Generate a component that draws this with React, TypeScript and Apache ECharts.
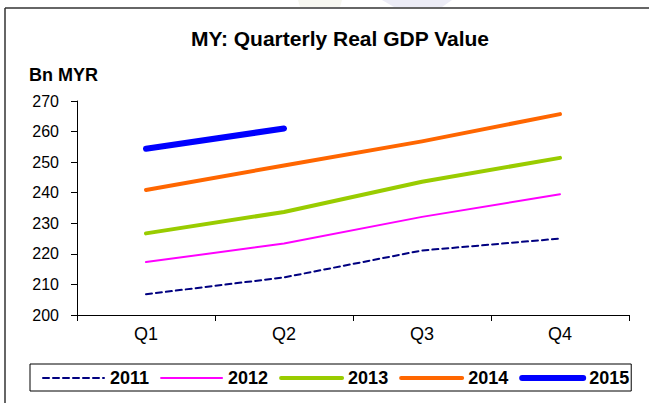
import React, { useEffect, useRef } from "react";
import * as echarts from "echarts";

const quarters = ["Q1", "Q2", "Q3", "Q4"];
const years = ["2011", "2012", "2013", "2014", "2015"];
const gdp2011 = [206.8, 212.3, 221.1, 225.0];
const gdp2012 = [217.3, 223.4, 232.1, 239.5];
const gdp2013 = [226.7, 233.7, 243.6, 251.4];
const gdp2014 = [240.9, 248.9, 256.8, 265.7];
const gdp2015 = [254.4, 261.0];
const yTicks = { min: 200, max: 270, interval: 10 };

const FONT = "Arial, 'Liberation Sans', sans-serif";

export default function App() {
  const ref = useRef<HTMLDivElement>(null);
  useEffect(() => {
    if (!ref.current) return;
    const chart = echarts.init(ref.current, undefined, { renderer: "svg" });
    const seriesData = [gdp2011, gdp2012, gdp2013, gdp2014, gdp2015];
    const colors = ["#000080", "#FF00FF", "#99CC00", "#FF6600", "#0000FF"];
    const widths = [2, 2, 4, 4, 6];
    const legendWidths = [2, 2, 4, 4, 6];
    chart.setOption({
      animation: false,
      backgroundColor: "#ffffff",
      textStyle: { fontFamily: FONT },
      title: {
        text: "MY: Quarterly Real GDP Value",
        left: 191,
        top: 28,
        padding: 0,
        textStyle: { fontSize: 21, fontWeight: "bold", color: "#000", fontFamily: FONT },
      },
      graphic: [
        { type: "polygon", silent: true, shape: { points: [[382, 0], [452, 0], [442, 7], [394, 7]] }, style: { fill: "#ececf6" } },
        { type: "polygon", silent: true, shape: { points: [[298, 0], [342, 0], [340, 7], [300, 7]] }, style: { fill: "#f7f7f0" } },
        { type: "line", silent: true, shape: { x1: 5, y1: 8, x2: 649, y2: 8 }, style: { stroke: "#333", lineWidth: 1.5 } },
        { type: "line", silent: true, shape: { x1: 5, y1: 8, x2: 5, y2: 403 }, style: { stroke: "#333", lineWidth: 1.5 } },
        {
          type: "text",
          left: 29,
          top: 66,
          style: { text: "Bn MYR", fontSize: 18, fontWeight: "bold", fill: "#000", fontFamily: FONT },
        },
      ],
      legend: {
        left: 30,
        top: 364,
        padding: [5, 2, 4, 12],
        borderColor: "#000",
        borderWidth: 1,
        itemWidth: 61,
        itemHeight: 14,
        itemGap: 11,
        textStyle: { fontSize: 18, fontWeight: "bold", color: "#000", fontFamily: FONT, padding: [0, 0, 0, 1] },
        data: years.map((y, i) => ({
          name: y,
          itemStyle: { opacity: 0 },
          lineStyle: { width: legendWidths[i], cap: "round" },
        })),
      },
      grid: { left: 77, right: 20, top: 101, bottom: 88, containLabel: false },
      xAxis: {
        type: "category",
        data: quarters,
        boundaryGap: true,
        axisLine: { lineStyle: { color: "#000", width: 1 } },
        axisTick: { show: true, length: 6, lineStyle: { color: "#000" } },
        axisLabel: { fontSize: 18, color: "#000", margin: 10, fontFamily: FONT },
        splitLine: { show: false },
      },
      yAxis: {
        type: "value",
        min: yTicks.min,
        max: yTicks.max,
        interval: yTicks.interval,
        axisLine: { show: true, lineStyle: { color: "#000", width: 1 } },
        axisTick: { show: true, length: 6, lineStyle: { color: "#000" } },
        axisLabel: { fontSize: 16, color: "#000", margin: 18, fontFamily: FONT },
        splitLine: { show: false },
      },
      series: years.map((y, i) => ({
        name: y,
        type: "line",
        data: seriesData[i],
        symbol: "none",
        showSymbol: false,
        color: colors[i],
        lineStyle: {
          color: colors[i],
          width: widths[i],
          type: i === 0 ? [6, 4] : "solid",
          cap: "round",
          join: "round",
        },
      })),
    });
    return () => chart.dispose();
  }, []);
  return <div ref={ref} style={{ width: 649, height: 403, position: "absolute", left: 0, top: 0 }} />;
}
